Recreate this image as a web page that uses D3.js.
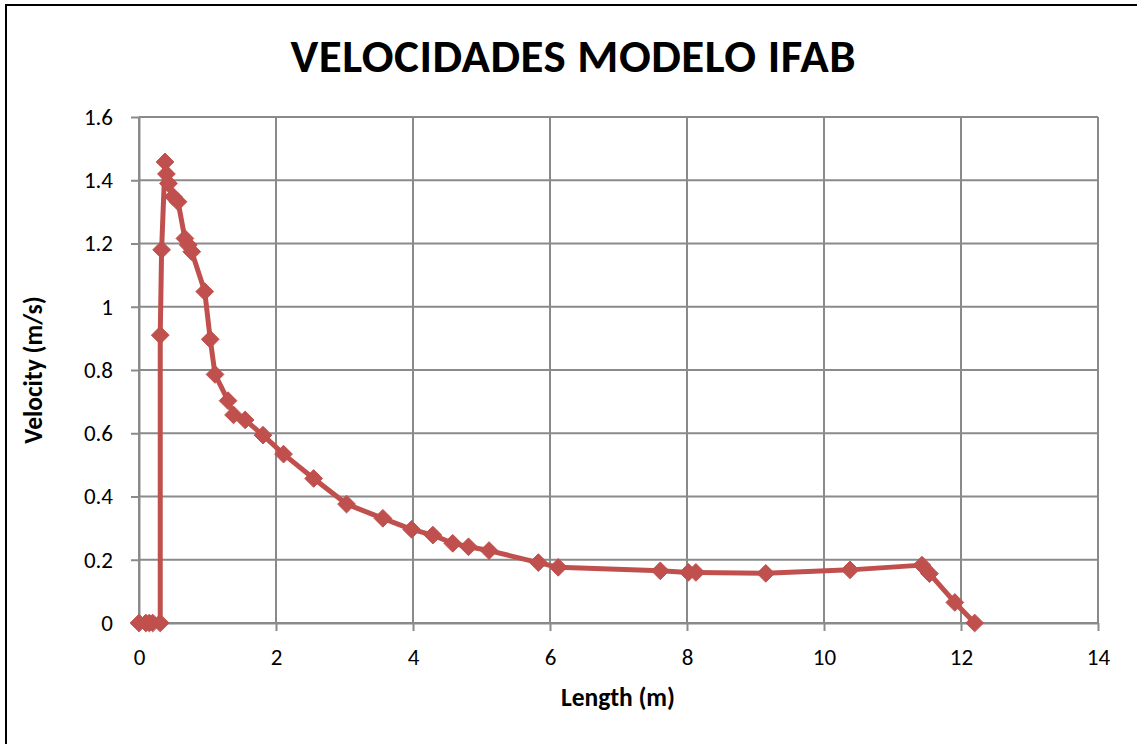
<!DOCTYPE html>
<html>
<head>
<meta charset="utf-8">
<script src="https://cdn.jsdelivr.net/npm/d3@7"></script>
<style>
  html, body { margin: 0; padding: 0; background: #fff; }
  svg { display: block; }
</style>
</head>
<body>
<svg id="chart" width="1137" height="744"></svg>
<script>
// Measured velocity profile along the IFAB model
const lengthM = [0, 0.1, 0.15, 0.2, 0.31, 0.31, 0.33, 0.38, 0.40, 0.43, 0.50, 0.57, 0.67, 0.72, 0.77,
  0.96, 1.04, 1.11, 1.30, 1.38, 1.55, 1.81, 2.11, 2.55, 3.03, 3.56, 3.98, 4.29, 4.58, 4.81, 5.11,
  5.83, 6.12, 7.61, 8.02, 8.13, 9.15, 10.38, 11.43, 11.54, 11.91, 12.2];
const velocity = [0, 0, 0, 0, 0, 0.91, 1.18, 1.458, 1.42, 1.39, 1.348, 1.332, 1.216, 1.195, 1.174,
  1.048, 0.897, 0.786, 0.703, 0.658, 0.642, 0.594, 0.534, 0.457, 0.376, 0.331, 0.296, 0.278, 0.252, 0.241, 0.229,
  0.191, 0.176, 0.165, 0.160, 0.160, 0.157, 0.168, 0.183, 0.156, 0.065, 0.0];
const xTicks = [0, 2, 4, 6, 8, 10, 12, 14];
const yTicks = [0, 0.2, 0.4, 0.6, 0.8, 1, 1.2, 1.4, 1.6];

const title = "VELOCIDADES MODELO IFAB";
const xTitle = "Length (m)";
const yTitle = "Velocity (m/s)";

const points = lengthM.map((x, i) => ({ x, y: velocity[i] }));

const svg = d3.select("#chart");
const font = "Carlito, Lato, 'Open Sans', sans-serif";
const lineColor = "#C0504D";
const gridColor = "#8a8a8a";

const plot = { left: 139, right: 1098, top: 117, bottom: 623 };

const x = d3.scaleLinear().domain([0, 14]).range([plot.left, plot.right]);
const y = d3.scaleLinear().domain([0, 1.6]).range([plot.bottom, plot.top]);

// chart frame
svg.append("rect")
  .attr("x", 6).attr("y", 5)
  .attr("width", 1140).attr("height", 760)
  .attr("fill", "none").attr("stroke", "#000").attr("stroke-width", 2);

// title
svg.append("text")
  .attr("x", 573).attr("y", 72)
  .attr("text-anchor", "middle")
  .attr("font-family", font).attr("font-weight", "bold")
  .attr("font-size", 47)
  .attr("textLength", 565).attr("lengthAdjust", "spacing")
  .attr("fill", "#000")
  .text(title);

// gridlines
const grid = svg.append("g");
grid.selectAll("line.v").data(xTicks).join("line")
  .attr("x1", d => x(d)).attr("x2", d => x(d))
  .attr("y1", plot.top).attr("y2", plot.bottom)
  .attr("stroke", gridColor).attr("stroke-width", 2);
grid.selectAll("line.h").data(yTicks).join("line")
  .attr("x1", plot.left).attr("x2", plot.right)
  .attr("y1", d => y(d)).attr("y2", d => y(d))
  .attr("stroke", gridColor).attr("stroke-width", 2);

// axes
const xAxis = d3.axisBottom(x).tickValues(xTicks).tickSize(8).tickSizeOuter(0).tickPadding(18)
  .tickFormat(d3.format("d"));
const yAxis = d3.axisLeft(y).tickValues(yTicks).tickSize(8).tickSizeOuter(0).tickPadding(18)
  .tickFormat(d => d === 0 ? "0" : (d === 1 ? "1" : d3.format(".1f")(d)));

const gx = svg.append("g").attr("transform", `translate(0,${plot.bottom})`).call(xAxis);
const gy = svg.append("g").attr("transform", `translate(${plot.left},0)`).call(yAxis);
[gx, gy].forEach(g => {
  g.select(".domain").attr("stroke", gridColor).attr("stroke-width", 2);
  g.selectAll(".tick line").attr("stroke", gridColor).attr("stroke-width", 2);
  g.selectAll(".tick text").attr("font-family", font).attr("font-size", 23).attr("fill", "#000");
});

// axis titles
svg.append("text")
  .attr("x", 618).attr("y", 706)
  .attr("text-anchor", "middle")
  .attr("font-family", font).attr("font-weight", "bold").attr("font-size", 25.5)
  .text(xTitle);
svg.append("text")
  .attr("transform", "translate(42,370) rotate(-90)")
  .attr("text-anchor", "middle")
  .attr("font-family", font).attr("font-weight", "bold").attr("font-size", 25.5)
  .text(yTitle);

// series line
const line = d3.line().x(d => x(d.x)).y(d => y(d.y));
svg.append("path")
  .datum(points)
  .attr("d", line)
  .attr("fill", "none")
  .attr("stroke", lineColor)
  .attr("stroke-width", 5)
  .attr("stroke-linejoin", "round");

// diamond markers
const diamond = d3.symbol().type(d3.symbolDiamond2).size(200);
svg.append("g").selectAll("path").data(points).join("path")
  .attr("transform", d => `translate(${x(d.x)},${y(d.y)})`)
  .attr("d", diamond)
  .attr("fill", lineColor)
  .attr("stroke", lineColor)
  .attr("stroke-width", 1);
</script>
</body>
</html>
